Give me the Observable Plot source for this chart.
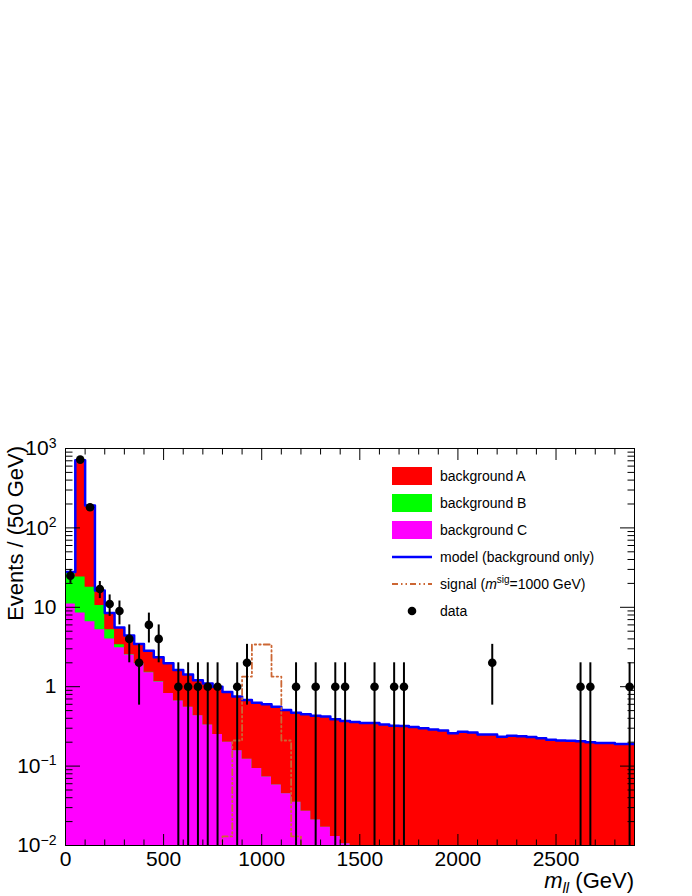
<!DOCTYPE html>
<html><head><meta charset="utf-8">
<script src="https://cdn.jsdelivr.net/npm/d3@7"></script>
<script src="https://cdn.jsdelivr.net/npm/@observablehq/plot@0.6"></script>
<style>
html,body{margin:0;padding:0;background:#fff;}
#chart{width:692px;height:896px;}
svg{font-family:"Liberation Sans",Arial,Helvetica,sans-serif;}
</style></head><body><div id="chart"></div>
<script>
// ---- data ----
const binWidth = 50;
const xMax = 2900;
const bkgA = [0.8,686,174,5.8,3.3,2.2,1.85,1.48,1.32,1.19,
  1.15,0.96,0.87,0.78,0.77,0.75,0.66,0.594,0.558,0.537,
  0.527,0.502,0.465,0.435,0.423,0.409,0.403,0.377,0.36,0.352,
  0.344,0.345,0.33,0.32,0.32,0.31,0.30,0.29,0.28,0.26,
  0.27,0.265,0.25,0.25,0.235,0.242,0.237,0.232,0.225,0.215,
  0.21,0.208,0.205,0.2,0.196,0.195,0.19,0.19];
const bkgB = [16,15.5,11.3,5.3,1.2,0.28,0.05,0.03,0.02,0.01,
  0,0,0,0,0,0,0,0,0,0, 0,0,0,0,0,0,0,0,0,0,
  0,0,0,0,0,0,0,0,0,0, 0,0,0,0,0,0,0,0,0,0, 0,0,0,0,0,0,0,0];
const bkgC = [11,8.5,6.6,5.2,4.0,3.1,2.5,1.95,1.5,1.15,
  0.82,0.66,0.55,0.43,0.33,0.25,0.2,0.156,0.122,0.093,
  0.073,0.058,0.045,0.035,0.027,0.021,0.017,0.013,0.0105,0.008,
  0.006,0.005,0.004,0.003,0,0,0,0,0,0,
  0,0,0,0,0,0,0,0,0,0, 0,0,0,0,0,0,0,0];
const signal = [0,0,0,0,0,0,0,0,0,0, 0,0,0,0,0,0,
  0.013,0.21,1.34,3.4,3.4,1.34,0.21,0.013,
  0,0,0,0,0,0,0,0,0,0, 0,0,0,0,0,0,0,0,0,0, 0,0,0,0,0,0,0,0,0,0, 0,0,0,0];
const dataX = [25,75,125,175,225,275,325,375,425,475,575,625,675,725,775,875,925,1175,1275,1375,1425,1575,1675,1725,2175,2625,2675,2875];
const dataN = [25,725,182,17,11,9,4,2,6,4,1,1,1,1,1,1,2,1,1,1,1,1,1,1,2,1,1,1];
const yMajor = [0.01,0.1,1,10,100,1000];
const yMajorLabels = ["10^−2","10^−1","1","10","10^2","10^3"];
const xMajor = [0,500,1000,1500,2000,2500];
const legendLabels = ["background A","background B","background C","model (background only)","signal","data"];
const colors = {A:"#ff0000", B:"#00ff00", C:"#ff00ff", model:"#0000ff", signal:"#cc6633", data:"#000000"};

// ---- derived tables ----
const yMin = 0.01, yMax = 1000;
const nb = bkgA.length;
const steps = d3.range(nb + 1).map(k => {
  const i = Math.min(k, nb - 1);
  const c = bkgC[i], bc = bkgB[i] + c, abc = bkgA[i] + bc;
  return {x: k * binWidth, c: Math.max(c, 1e-4), bc: Math.max(bc, 1e-4), abc: Math.max(abc, 1e-4), sig: Math.max(signal[i], 1e-4)};
});
const points = dataX.map((x, i) => {
  const n = dataN[i], e = Math.sqrt(n);
  return {x, n, lo: n - e > yMin ? n - e : yMin * 0.5, hi: n + e};
});
const yMinor = [];
for (const d of [0.01,0.1,1,10,100]) for (let m = 2; m <= 9; m++) yMinor.push(d * m);
const xMinor = d3.range(0, xMax + 1, 100).filter(v => v % 500 !== 0);
const labelOf = new Map(yMajor.map((v, i) => [v, yMajorLabels[i]]));

const font = "Liberation Sans, Arial, Helvetica, sans-serif";
const dash = "6,3,1.5,3,1.5,3";
const chart = Plot.plot({
  width: 692, height: 896,
  marginTop: 448, marginBottom: 51, marginLeft: 65, marginRight: 58,
  style: {fontFamily: font, background: "white", color: "black"},
  x: {domain: [0, xMax]},
  y: {type: "log", domain: [yMin, yMax]},
  marks: [
    Plot.areaY(steps, {x: "x", y1: () => yMin * 0.5, y2: "abc", curve: "step-after", fill: colors.A, clip: true}),
    Plot.areaY(steps, {x: "x", y1: () => yMin * 0.5, y2: "bc", curve: "step-after", fill: colors.B, clip: true}),
    Plot.areaY(steps, {x: "x", y1: () => yMin * 0.5, y2: "c", curve: "step-after", fill: colors.C, clip: true}),
    Plot.line(steps, {x: "x", y: "abc", curve: "step-after", stroke: colors.model, strokeWidth: 2.5, clip: true}),
    Plot.line(steps, {x: "x", y: "sig", curve: "step-after", stroke: colors.signal, strokeWidth: 1.8, strokeDasharray: dash, clip: true}),
    Plot.ruleX(points, {x: "x", y1: "lo", y2: "hi", stroke: "black", strokeWidth: 2, clip: true}),
    Plot.dot(points, {x: "x", y: "n", r: 4.3, fill: "black", stroke: null}),
    Plot.frame({stroke: "black", strokeWidth: 1}),
    Plot.axisY(yMajor, {anchor: "left", tickSize: -15, tickPadding: 24, fontSize: 21, tickFormat: v => labelOf.get(v), label: null}),
    Plot.axisY(yMinor, {anchor: "left", tickSize: -7.5, tickFormat: () => "", label: null}),
    Plot.axisY(yMajor, {anchor: "right", tickSize: -15, tickFormat: () => "", label: null}),
    Plot.axisY(yMinor, {anchor: "right", tickSize: -7.5, tickFormat: () => "", label: null}),
    Plot.axisX(xMajor, {anchor: "bottom", tickSize: -11, tickPadding: 17, fontSize: 21, tickFormat: d => String(d), label: null}),
    Plot.axisX(xMinor, {anchor: "bottom", tickSize: -5.5, tickFormat: () => "", label: null}),
    Plot.axisX(xMajor, {anchor: "top", tickSize: -11, tickFormat: () => "", label: null}),
    Plot.axisX(xMinor, {anchor: "top", tickSize: -5.5, tickFormat: () => "", label: null})
  ]
});
document.getElementById("chart").appendChild(chart);

const svg = d3.select(chart);
// superscripts in y tick labels
svg.selectAll('g[aria-label="y-axis tick label"] text').each(function() {
  const t = d3.select(this);
  const s = t.text();
  if (s.includes("^")) {
    const [b, e] = s.split("^");
    t.text("");
    t.append("tspan").text(b);
    t.append("tspan").attr("dy", "-0.55em").attr("font-size", "14px").text(e);
  }
});

// axis titles
svg.append("text")
  .attr("transform", "translate(22.5,446) rotate(-90)")
  .attr("text-anchor", "end").attr("font-size", 22).attr("fill", "black")
  .text("Events / (50 GeV)");
const xt = svg.append("text").attr("x", 634).attr("y", 888)
  .attr("text-anchor", "end").attr("font-size", 22).attr("fill", "black");
xt.append("tspan").attr("font-style", "italic").text("m");
xt.append("tspan").attr("font-style", "italic").attr("font-size", 15).attr("dy", 5).text("ll");
xt.append("tspan").attr("dy", -5).text(" (GeV)");

// legend
const lg = svg.append("g").attr("font-size", 14).attr("fill", "black").attr("text-anchor", "start");
const rowY = i => 476 + i * 27;
[colors.A, colors.B, colors.C].forEach((c, i) => {
  lg.append("rect").attr("x", 392).attr("y", rowY(i) - 9).attr("width", 40).attr("height", 18).attr("fill", c);
});
lg.append("line").attr("x1", 392).attr("x2", 432).attr("y1", rowY(3)).attr("y2", rowY(3))
  .attr("stroke", colors.model).attr("stroke-width", 2.5);
lg.append("line").attr("x1", 392).attr("x2", 432).attr("y1", rowY(4)).attr("y2", rowY(4))
  .attr("stroke", colors.signal).attr("stroke-width", 1.8).attr("stroke-dasharray", dash);
lg.append("circle").attr("cx", 412).attr("cy", rowY(5)).attr("r", 4.3).attr("fill", "black");
legendLabels.forEach((s, i) => {
  const t = lg.append("text").attr("x", 440).attr("y", rowY(i) + 5).attr("text-anchor", "start");
  if (s === "signal") {
    t.append("tspan").text("signal (");
    t.append("tspan").attr("font-style", "italic").text("m");
    t.append("tspan").attr("font-size", 10).attr("dy", -6).text("sig");
    t.append("tspan").attr("dy", 6).text("=1000 GeV)");
  } else t.text(s);
});
</script></body></html>
